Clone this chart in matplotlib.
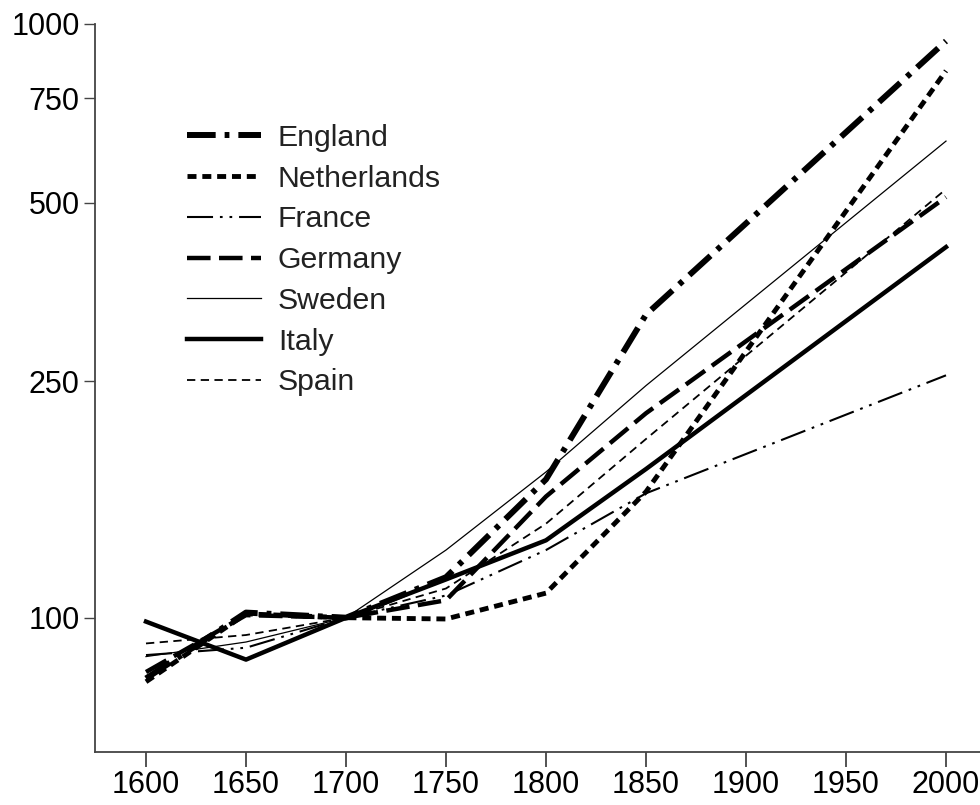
import matplotlib
matplotlib.use("Agg")
import matplotlib.pyplot as plt
from matplotlib.ticker import FixedLocator, NullLocator, FixedFormatter

plt.rcParams['font.family'] = ['Liberation Sans', 'DejaVu Sans']

# index values, 1700 = 100
years = [1600, 1650, 1700, 1750, 1800, 1850, 2000]
england = [79, 102, 100, 117, 171, 324, 936]
netherlands = [78, 101.5, 100, 99.5, 110, 163, 834]
france = [86.5, 89, 100, 109, 130, 162, 256]
germany = [81, 101, 100, 107, 160, 221, 511]
sweden = [86, 91, 100, 130, 176, 246, 635]
italy = [98.5, 85, 100, 116, 135, 178, 421]
spain = [90.5, 93.5, 100, 112, 144, 200, 527]

yticks = [100, 250, 500, 750, 1000]
xticks = [1600, 1650, 1700, 1750, 1800, 1850, 1900, 1950, 2000]

fig = plt.figure(figsize=(9.8, 8.05), dpi=100)
ax = fig.add_axes([95 / 980, 53 / 805, 1 - 95 / 980, (752 - 24) / 805])

ax.plot(years, england, color='black', lw=4.3, ls=(0, (4.8, 1.5, 0.8, 1.5)), label='England')
ax.plot(years, netherlands, color='black', lw=3.5, ls=(0, (1.85, 1.2)), label='Netherlands')
ax.plot(years, france, color='black', lw=1.5, ls=(0, (12.5, 3.3, 1.3, 3.3, 1.3, 3.3)), label='France')
ax.plot(years, germany, color='black', lw=3.2, ls=(0, (5.3, 1.9)), label='Germany')
ax.plot(years, sweden, color='black', lw=0.9, ls='-', label='Sweden')
ax.plot(years, italy, color='black', lw=3.2, ls='-', label='Italy')
ax.plot(years, spain, color='black', lw=1.3, ls=(0, (4.6, 3)), label='Spain')

ax.set_yscale('log')
ax.set_ylim(59.4, 1000)
ax.set_xlim(1574.5, 2017)
ax.yaxis.set_major_locator(FixedLocator(yticks))
ax.yaxis.set_major_formatter(FixedFormatter([str(v) for v in yticks]))
ax.yaxis.set_minor_locator(NullLocator())
ax.set_xticks(xticks)
ax.set_xticklabels([str(v) for v in xticks])

for s in ['top', 'right']:
    ax.spines[s].set_visible(False)
for s in ['left', 'bottom']:
    ax.spines[s].set_color('#444444')
    ax.spines[s].set_linewidth(1.3)

ax.tick_params(axis='x', length=11, width=1.3, color='#444444', labelsize=22, pad=2)
ax.tick_params(axis='y', length=8, width=1.0, color='#444444', labelsize=22, pad=3)

leg = ax.legend(loc='upper left', bbox_to_anchor=(187 / 980, 1 - 124 / 805),
                bbox_transform=fig.transFigure, frameon=False, fontsize=21.8,
                handlelength=2.45, handletextpad=0.55, labelspacing=0.42,
                borderpad=0, borderaxespad=0)
for t in leg.get_texts():
    t.set_color('#222222')

fig.savefig('out.png', dpi=100)
